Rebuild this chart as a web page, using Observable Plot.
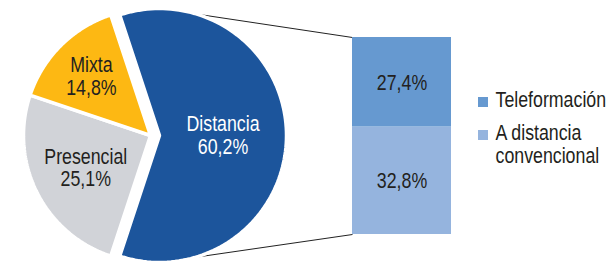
<!DOCTYPE html>
<html>
<head>
<meta charset="utf-8">
<script src="https://cdn.jsdelivr.net/npm/d3@7"></script>
<script src="https://cdn.jsdelivr.net/npm/@observablehq/plot@0.6"></script>
<style>
  html, body { margin: 0; padding: 0; background: #fff; }
  #chart svg { display: block; }
</style>
</head>
<body>
<div id="chart"></div>
<script>
// ---- data ----
const pieCategories = ["Distancia", "Presencial", "Mixta"];
const pieValues = [60.2, 25.1, 14.8];
const pieLabels = ["60,2%", "25,1%", "14,8%"];
const barCategories = ["Teleformación", "A distancia convencional"];
const barValues = [27.4, 32.8];
const barLabels = ["27,4%", "32,8%"];
const pieColors = ["#1C559C", "#D1D3D8", "#FDB813"];
const barColors = ["#6699D0", "#95B4DE"];
const pieTextColors = ["#ffffff", "#231F20", "#231F20"];

// ---- layout ----
const W = 612, H = 262;
const cx = 150, cy = 135, R = 127, explode = 9;
const labelR = [0.5, 0.57, 0.66];
const barX1 = 352, barX2 = 451, barTop = 37, barBottom = 234;
const legendX = 478, legendY0 = 97, legendStep = 33, sw = 10;
const FONT = "'Liberation Sans', Arial, sans-serif";
const SQUEEZE = 0.79; // condensed look

const total = d3.sum(pieValues);
const span0 = pieValues[0] / total * 2 * Math.PI;
const start = Math.PI / 2 - span0 / 2;
const arcs = d3.pie().sort(null).startAngle(start).endAngle(start + 2 * Math.PI)(pieValues);

const slicePts = [];
const sliceLabels = [];
arcs.forEach((a, i) => {
  const mid = (a.startAngle + a.endAngle) / 2;
  const ox = i === 0 ? cx + explode * Math.sin(mid) : cx;
  const oy = i === 0 ? cy - explode * Math.cos(mid) : cy;
  const cat = pieCategories[i];
  slicePts.push({cat, x: ox, y: oy});
  const n = 120;
  for (let k = 0; k <= n; k++) {
    const t = a.startAngle + (a.endAngle - a.startAngle) * k / n;
    slicePts.push({cat, x: ox + R * Math.sin(t), y: oy - R * Math.cos(t)});
  }
  sliceLabels.push({
    text: cat + "\n" + pieLabels[i],
    x: ox + R * labelR[i] * Math.sin(mid),
    y: oy - R * labelR[i] * Math.cos(mid),
    color: pieTextColors[i]
  });
});

// exploded slice center
const bMid = (arcs[0].startAngle + arcs[0].endAngle) / 2;
const bcx = cx + explode * Math.sin(bMid), bcy = cy - explode * Math.cos(bMid);

// stacked bar
const subTotal = d3.sum(barValues);
const k = (barBottom - barTop) / subTotal;
let acc = 0;
const barRects = barCategories.map((c, i) => {
  const y1 = barTop + acc * k;
  acc += barValues[i];
  const y2 = barTop + acc * k;
  return {cat: c, x1: barX1, x2: barX2, y1, y2, label: barLabels[i]};
});

const connectors = [
  {x1: bcx, y1: bcy - R, x2: barX1, y2: barTop},
  {x1: bcx, y1: bcy + R, x2: barX1, y2: barBottom}
];

const legend = barCategories.map((c, i) => ({
  cat: c,
  x1: legendX, x2: legendX + sw,
  y1: legendY0 + i * legendStep, y2: legendY0 + i * legendStep + sw,
  tx: legendX + sw + 7, ty: legendY0 + i * legendStep - 6
}));

const chart = Plot.plot({
  width: W, height: H,
  margin: 0,
  style: {fontFamily: FONT, background: "#fff"},
  x: {domain: [0, W], range: [0, W], axis: null},
  y: {domain: [0, H], range: [0, H], axis: null},
  color: {domain: [...pieCategories, ...barCategories], range: [...pieColors, ...barColors]},
  marks: [
    Plot.link(connectors, {x1: "x1", y1: "y1", x2: "x2", y2: "y2", stroke: "#222", strokeWidth: 1}),
    Plot.line(slicePts, {x: "x", y: "y", z: "cat", fill: "cat", stroke: "white", strokeWidth: 3.5, strokeLinejoin: "miter", curve: "linear-closed"}),
    Plot.text(sliceLabels, {x: "x", y: "y", text: "text", fill: "color", fontSize: 22.5, lineHeight: 1.0, textAnchor: "middle"}),
    Plot.rect(barRects, {x1: "x1", x2: "x2", y1: "y1", y2: "y2", fill: "cat"}),
    Plot.text(barRects, {x: d => (d.x1 + d.x2) / 2, y: d => (d.y1 + d.y2) / 2, text: "label", fill: "#231F20", fontSize: 22.5}),
    Plot.rect(legend, {x1: "x1", x2: "x2", y1: "y1", y2: "y2", fill: "cat"}),
    Plot.text(legend, {x: "tx", y: "ty", text: "cat", fill: "#231F20", fontSize: 22.5, lineHeight: 1.0, textAnchor: "start", lineAnchor: "top", lineWidth: 6.5})
  ]
});
// condensed typeface look: squeeze each label horizontally around its anchor
d3.select(chart).selectAll("text").each(function() {
  const t = this.getAttribute("transform");
  if (t) this.setAttribute("transform", t + ` scale(${SQUEEZE},1)`);
});
document.getElementById("chart").appendChild(chart);
</script>
</body>
</html>
